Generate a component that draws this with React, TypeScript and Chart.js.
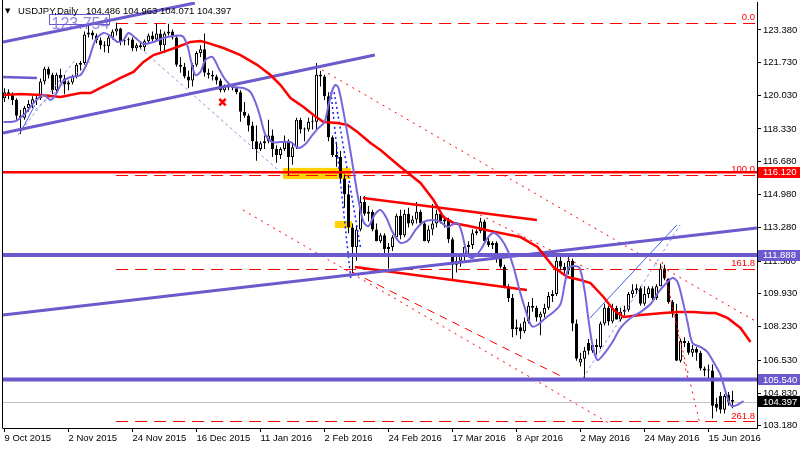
import React, { useEffect, useRef } from "react";
import { Chart, registerables } from "chart.js";

Chart.register(...registerables);

const FONT = "'Liberation Sans', Arial, sans-serif";

// ---------- data ----------
const symbolName = "USDJPY,Daily";
const dateTicks = ["9 Oct 2015", "2 Nov 2015", "24 Nov 2015", "16 Dec 2015", "11 Jan 2016", "2 Feb 2016", "24 Feb 2016", "17 Mar 2016", "8 Apr 2016", "2 May 2016", "24 May 2016", "15 Jun 2016"];
const dateTickBars = [0, 16, 32, 48, 64, 80, 96, 112, 128, 144, 160, 176];
const priceTicks = [123.38, 121.73, 120.03, 118.33, 116.68, 114.98, 113.28, 111.58, 109.93, 108.23, 106.53, 104.83, 103.18];

const opens = [
  119.9, 120.2, 120.05, 119.8, 119.0, 118.9, 119.4, 119.6, 119.85, 119.9,
  120.75, 121.4, 121.1, 120.3, 121.1, 120.9, 120.6, 120.7, 121.0, 121.6,
  121.7, 123.15, 123.25, 123.1, 122.85, 122.6, 122.55, 123.0, 123.3, 123.45,
  122.8, 122.85, 122.9, 122.45, 122.6, 122.5, 122.8, 123.1, 122.9, 123.2,
  122.6, 123.2, 123.3, 123.0, 121.6, 121.5, 121.0, 120.8, 121.6, 122.2,
  122.4, 121.2, 121.1, 121.0, 120.8, 120.3, 120.5, 120.45, 120.4, 120.2,
  119.2, 119.0, 118.5, 117.7, 117.3, 117.6, 117.7, 118.0, 117.3, 117.0,
  117.3, 117.7, 116.9, 117.4, 118.8, 118.3, 118.3, 118.7, 118.7, 121.1,
  121.0, 120.0, 117.9, 117.0, 116.9, 115.8, 115.0, 113.3, 112.3, 113.2,
  114.6, 114.0, 114.1, 113.2, 112.6, 112.9, 112.2, 112.3, 112.8, 113.9,
  112.9, 114.0, 113.5, 113.7, 114.1, 113.5, 112.6, 113.2, 113.5, 114.0,
  113.6, 113.7, 112.7, 111.4, 111.6, 111.9, 112.3, 112.4, 113.0, 113.1,
  113.6, 112.6, 112.4, 112.5, 111.7, 111.3, 110.3, 109.7, 108.1, 108.2,
  108.0, 108.5, 109.3, 109.2, 108.7, 108.9, 109.2, 109.8, 109.9, 111.6,
  111.3, 111.1, 111.6, 108.4, 106.4, 106.6, 107.4, 107.0, 107.3, 107.2,
  108.4, 109.2, 108.5, 109.2, 108.6, 109.0, 109.1, 109.9, 110.1, 110.2,
  109.4, 109.9, 110.2, 109.7, 110.3, 111.2, 110.7, 109.5, 108.9, 106.5,
  107.5, 107.4, 106.9, 107.1, 106.9, 106.1, 106.0, 106.0, 104.3, 104.7,
  104.0, 104.75, 104.486
];
const highs = [
  120.4, 120.35, 120.2, 119.9, 119.3, 119.5, 119.8, 120.0, 120.1, 120.9,
  121.5, 121.5, 121.2, 121.2, 121.4, 121.1, 120.8, 121.1, 121.7, 121.8,
  123.3, 123.6, 123.35, 123.2, 123.0, 122.8, 123.1, 123.4, 123.754, 123.5,
  123.0, 123.0, 123.0, 122.7, 122.8, 122.9, 123.2, 123.3, 123.7, 123.4,
  123.3, 123.7, 123.4, 123.1, 122.0, 121.7, 121.3, 121.7, 122.3, 122.6,
  123.2, 121.4, 121.3, 121.1, 120.9, 120.6, 120.6, 120.6, 120.5, 120.3,
  119.7, 119.1, 118.7, 118.5, 117.7, 118.0, 118.8, 118.3, 117.5, 117.4,
  118.0, 117.8, 117.6, 118.9, 118.9, 118.4, 118.9, 119.0, 121.69, 121.3,
  121.1, 120.2, 118.0, 117.6, 117.2, 116.0, 115.5, 113.5, 113.4, 114.9,
  114.9, 114.4, 114.2, 113.5, 113.0, 113.0, 112.5, 112.9, 114.0, 114.2,
  114.2, 114.3, 113.9, 114.6, 114.2, 113.6, 113.4, 114.5, 114.2, 114.1,
  113.9, 113.8, 112.8, 111.8, 112.0, 112.5, 112.6, 113.2, 113.2, 113.8,
  113.7, 112.8, 112.6, 112.6, 111.8, 111.4, 110.4, 109.9, 108.6, 108.4,
  108.7, 109.5, 109.7, 109.3, 109.0, 109.4, 110.0, 110.1, 111.8, 111.9,
  111.5, 111.9, 111.7, 108.6, 106.9, 107.2, 107.6, 107.4, 107.6, 108.5,
  109.4, 109.3, 109.4, 109.3, 109.2, 109.3, 110.0, 110.4, 110.4, 110.3,
  110.3, 110.3, 110.3, 110.4, 111.45, 111.4, 110.7, 109.6, 109.4, 107.6,
  107.7, 107.5, 107.3, 107.2, 107.0, 106.2, 106.3, 106.3, 104.6, 104.9,
  104.8, 104.9, 104.963
];
const lows = [
  119.7, 119.85, 119.55, 118.8, 118.07, 118.8, 119.2, 119.4, 119.55, 119.8,
  120.6, 120.9, 120.1, 120.1, 120.7, 120.1, 120.3, 120.6, 120.9, 121.3,
  121.6, 123.0, 122.9, 122.7, 122.4, 122.25, 122.2, 122.9, 123.1, 122.6,
  122.6, 122.6, 122.3, 122.3, 122.4, 122.3, 122.7, 122.8, 122.8, 122.3,
  122.2, 123.1, 122.9, 121.5, 121.2, 120.9, 120.4, 120.5, 121.5, 122.0,
  121.0, 120.9, 120.8, 120.6, 120.2, 120.2, 120.3, 120.3, 120.1, 118.7,
  118.9, 118.2, 117.3, 116.7, 117.2, 117.3, 117.6, 116.9, 116.6, 116.8,
  117.2, 115.98, 116.5, 117.3, 118.1, 117.7, 118.2, 118.3, 118.3, 120.5,
  119.8, 117.7, 116.9, 116.4, 115.6, 114.3, 113.0, 110.98, 111.6, 113.1,
  113.9, 113.6, 113.1, 112.6, 112.5, 111.9, 111.2, 112.1, 112.7, 112.7,
  112.8, 113.3, 113.4, 113.5, 113.4, 112.6, 112.5, 112.9, 113.3, 113.5,
  113.3, 112.5, 110.66, 111.0, 111.3, 111.6, 112.0, 112.2, 112.9, 113.0,
  112.5, 112.3, 112.2, 111.5, 111.2, 110.2, 109.5, 107.7, 107.8, 107.6,
  107.9, 108.4, 109.0, 108.5, 107.8, 108.7, 109.1, 109.5, 109.8, 111.1,
  110.9, 110.9, 108.0, 106.5, 106.2, 105.55, 106.8, 106.9, 106.8, 107.1,
  108.3, 108.3, 108.4, 108.6, 108.5, 108.8, 109.0, 109.7, 109.9, 109.3,
  109.3, 109.7, 109.6, 109.6, 110.3, 110.6, 109.4, 108.7, 106.5, 106.4,
  107.2, 106.8, 106.7, 106.5, 106.0, 105.7, 105.6, 103.55, 103.9, 103.8,
  103.8, 104.2, 104.071
];
const closes = [
  120.2, 120.05, 119.8, 119.0, 118.9, 119.4, 119.6, 119.85, 119.9, 120.75,
  121.4, 121.1, 120.3, 121.1, 120.9, 120.6, 120.7, 121.0, 121.6, 121.7,
  123.15, 123.25, 123.1, 122.85, 122.6, 122.55, 123.0, 123.3, 123.45, 122.8,
  122.85, 122.9, 122.45, 122.6, 122.5, 122.8, 123.1, 122.9, 123.2, 122.6,
  123.2, 123.3, 123.0, 121.6, 121.5, 121.0, 120.8, 121.6, 122.2, 122.4,
  121.2, 121.1, 121.0, 120.8, 120.3, 120.5, 120.45, 120.4, 120.2, 119.2,
  119.0, 118.5, 117.7, 117.3, 117.6, 117.7, 118.0, 117.3, 117.0, 117.3,
  117.7, 116.9, 117.4, 118.8, 118.3, 118.3, 118.7, 118.7, 121.1, 121.0,
  120.0, 117.9, 117.0, 116.9, 115.8, 115.0, 113.3, 112.3, 113.2, 114.6,
  114.0, 114.1, 113.2, 112.6, 112.9, 112.2, 112.3, 112.8, 113.9, 112.9,
  114.0, 113.5, 113.7, 114.1, 113.5, 112.6, 113.2, 113.5, 114.0, 113.6,
  113.7, 112.7, 111.4, 111.6, 111.9, 112.3, 112.4, 113.0, 113.1, 113.6,
  112.6, 112.4, 112.5, 111.7, 111.3, 110.3, 109.7, 108.1, 108.2, 108.0,
  108.5, 109.3, 109.2, 108.7, 108.9, 109.2, 109.8, 109.9, 111.6, 111.3,
  111.1, 111.6, 108.4, 106.6, 106.6, 107.0, 107.0, 107.3, 107.2, 108.4,
  109.2, 108.5, 109.2, 108.6, 109.0, 109.1, 109.9, 110.1, 110.2, 109.4,
  109.9, 110.2, 109.7, 110.3, 111.2, 110.7, 109.5, 108.9, 106.5, 107.5,
  107.4, 106.9, 107.1, 106.9, 106.1, 106.0, 106.0, 104.2, 104.1, 104.0,
  104.7, 104.4, 104.397
];

// indicator curves: [bar index, price]
const fastMA: [number, number][] = [
  [-0.25, 118.68], [2.75, 118.73], [5.25, 119.14], [7.25, 119.65], [9.75, 120.06], [11.5, 119.81], [12.75, 120.06], [14.5, 120.73], [16.5, 120.98], [19, 121.08],
  [21, 121.85], [22.75, 122.87], [24.75, 123.23], [26.5, 123.07], [28.25, 122.77], [29.75, 122.87], [31, 123.23], [32.75, 122.97], [34.75, 122.67], [37.25, 122.77],
  [39.75, 122.97], [42.25, 123.07], [44.5, 123.07], [45.75, 122.56], [46.75, 121.7], [47.75, 121.08], [49, 121.24], [50.25, 121.85], [52, 122.0], [53.5, 121.44],
  [55.25, 120.83], [57.25, 120.47], [59.75, 120.42], [61.5, 120.21], [63, 119.55], [64, 118.89], [65.25, 118.02], [67, 117.66], [69, 117.66], [71.5, 117.66],
  [73.5, 117.36], [75.25, 117.56], [77, 118.02], [78.5, 118.38], [80, 118.68], [81, 119.55], [82, 120.32], [82.75, 120.57], [83.5, 120.42], [84.75, 119.19],
  [86, 117.77], [87.25, 116.23], [88.5, 114.7], [89.75, 113.58], [91, 113.37], [92.5, 113.94], [94, 114.19], [95.5, 113.78], [97, 113.07], [99, 112.51],
  [101, 112.66], [102.75, 113.17], [104.75, 113.58], [107, 113.68], [109, 113.58], [110.75, 113.32], [112.25, 113.48], [113.5, 113.48], [114.5, 112.91], [115.75, 111.89],
  [117, 111.74], [119, 112.15], [120.75, 112.76], [122.25, 113.02], [124, 112.76], [125.75, 112.15], [127.25, 111.28], [128.75, 110.11], [130.25, 109.09], [131.75, 108.27],
  [133.25, 108.32], [135.25, 108.68], [137.25, 108.98], [139, 109.39], [140, 110.36], [141, 111.23], [142.25, 111.33], [143.75, 111.23], [145, 110.11], [146, 108.58],
  [147, 107.3], [148.25, 106.53], [150.25, 106.94], [152, 107.45], [154, 108.17], [156.5, 108.68], [159, 108.98], [161.5, 109.39], [163.5, 110.0], [165.25, 110.41],
  [167, 110.72], [168.25, 110.52], [169.5, 109.6], [170.75, 108.47], [172, 107.4], [174, 107.2], [175.75, 106.94], [177.25, 106.43], [179, 105.77], [180.5, 104.75],
  [181.75, 104.19], [183.25, 104.24], [184.75, 104.44]
];
const slowMA: [number, number][] = [
  [-0.25, 120.06], [4, 120.11], [9, 120.06], [14, 119.96], [19, 120.16], [21.5, 120.16], [24, 120.42], [26.5, 120.67], [29, 120.93], [32.25, 121.24],
  [34.75, 121.75], [37.25, 122.1], [39.75, 122.26], [43.25, 122.51], [46.5, 122.77], [49, 122.82], [50.75, 122.72], [54.75, 122.46], [59, 122.1], [63.25, 121.59],
  [66.5, 121.08], [69, 120.57], [71.5, 119.91], [74.75, 119.45], [77.25, 119.04], [79.75, 118.68], [83.25, 118.63], [85.75, 118.53], [88.25, 118.17], [91.5, 117.61],
  [94, 117.25], [99, 116.39], [104, 115.57], [107.25, 114.7], [109.75, 113.83], [112.25, 113.53], [117.25, 113.32], [121.5, 113.12], [124, 113.02], [129, 112.81],
  [133.25, 112.3], [137.25, 111.28], [140.75, 110.77], [144, 110.62], [146.5, 110.46], [149.75, 109.75], [152.25, 109.09], [154.75, 108.73], [159, 108.83], [164.75, 108.93],
  [168.25, 108.98], [172.25, 108.98], [175.75, 108.93], [177.75, 108.93], [180.75, 108.68], [184, 108.17], [186.5, 107.45]
];

// drawn objects: [bar1, price1, bar2, price2]
const purpleChannel = [
  [-0.375, 122.77, 47.6, 124.76],
  [-0.375, 118.12, 92.6, 122.1],
  [-0.375, 108.83, 188.1, 113.27],
];
const purpleStub = [[-0.375, 120.98, 8.1, 120.93]];
const lavenderLines = [
  [33.9, 122.46, 70.1, 115.93],
  [3.4, 118.02, 17.6, 121.85],
  [7.6, 119.3, 21.4, 121.75],
  [144.6, 105.61, 168.9, 113.43],
];
const blueThin = [[3.9, 118.12, 7.6, 119.55], [146.4, 108.68, 168.1, 113.43]];
const blueDotted = [[81.6, 120.21, 86.6, 110.62], [82.4, 120.21, 89.1, 112.15]];
const redDotted = [
  [79.4, 121.34, 188.1, 108.47],
  [59.6, 114.19, 151.9, 103.22],
  [118.9, 113.94, 146.4, 111.13],
  [164.4, 111.54, 173.9, 103.22],
  [165.1, 110.98, 170.9, 105.51],
];
const redDashed = [[86.9, 111.03, 140.1, 105.61]];
const redTriangle = [[89.6, 114.8, 133.1, 113.68], [87.6, 111.28, 130.6, 110.11]];
const yellowZones = [[69.6, 86.6, 115.77, 116.34], [82.6, 86.9, 113.27, 113.63]];
const crossMark = [[54.5, 119.7]];

const redLevel = 116.12;
const purpleLevels = [111.888, 105.54];
const fibLevels = [123.754, 115.98, 111.17, 103.4];
const fibLabels = ["0.0", "100.0", "161.8", "261.8"];
const fibStartBar = 27.9;
const highLabelAnchor = [11.1, 124.2];

const X_MIN = -0.375;
const X_MAX = 188.125;
const Y_MIN = 103.062;
const Y_MAX = 124.809;

const PURPLE = "#6a5acd";
const MA_PURPLE = "#7766dd";
const RED = "#ff0000";

function segDataset(pts: number[][], color: string, width: number, dash: number[], order: number) {
  return pts.map((s) => ({
    type: "line" as const,
    data: [{ x: s[0], y: s[1] }, { x: s[2], y: s[3] }],
    borderColor: color,
    borderWidth: width,
    borderDash: dash,
    pointRadius: 0,
    pointHoverRadius: 0,
    fill: false,
    tension: 0,
    order,
  }));
}

const mt4Plugin = {
  id: "mt4",
  beforeDatasetsDraw(chart: any) {
    const { ctx, chartArea: a, scales } = chart;
    const x = scales.x, y = scales.y;
    ctx.save();
    ctx.beginPath();
    ctx.rect(a.left, a.top, a.right - a.left, a.bottom - a.top);
    ctx.clip();
    ctx.fillStyle = "#ffd200";
    for (const [x0, x1, y0, y1] of yellowZones) {
      const px0 = x.getPixelForValue(x0), px1 = x.getPixelForValue(x1);
      const py0 = y.getPixelForValue(y1), py1 = y.getPixelForValue(y0);
      ctx.fillRect(px0, py0, px1 - px0, py1 - py0);
    }
    // bid line (grey, solid)
    const last = closes[closes.length - 1];
    const by = Math.round(y.getPixelForValue(last)) + 0.5;
    ctx.strokeStyle = "#c0c0c0";
    ctx.lineWidth = 1;
    ctx.beginPath();
    ctx.moveTo(a.left, by);
    ctx.lineTo(a.right, by);
    ctx.stroke();
    // Fibonacci levels (red dashed)
    ctx.strokeStyle = RED;
    ctx.setLineDash([12, 7]);
    const fx = x.getPixelForValue(fibStartBar);
    for (const lv of fibLevels) {
      const py = Math.round(y.getPixelForValue(lv)) + 0.5;
      ctx.beginPath();
      ctx.moveTo(fx, py);
      ctx.lineTo(a.right, py);
      ctx.stroke();
    }
    ctx.restore();
  },
  afterDatasetsDraw(chart: any) {
    const { ctx, chartArea: a, scales } = chart;
    const x = scales.x, y = scales.y;
    ctx.save();
    ctx.font = `9.5px ${FONT}`;
    ctx.fillStyle = RED;
    ctx.textAlign = "right";
    ctx.textBaseline = "middle";
    fibLevels.forEach((lv, k) => {
      ctx.fillText(fibLabels[k], a.right - 2, y.getPixelForValue(lv) - 5.5);
    });
    // high label
    const hx = Math.round(x.getPixelForValue(highLabelAnchor[0])) + 0.5;
    const hy = Math.round(y.getPixelForValue(highLabelAnchor[1])) + 0.5;
    ctx.strokeStyle = PURPLE;
    ctx.lineWidth = 1;
    ctx.strokeRect(hx, hy, 60, 10);
    ctx.font = `16px ${FONT}`;
    ctx.fillStyle = "rgba(120,105,215,0.8)";
    ctx.textAlign = "left";
    ctx.textBaseline = "alphabetic";
    ctx.fillText(Math.max(...highs).toFixed(3), hx + 2, hy + 14);
    ctx.restore();
  },
  afterDraw(chart: any) {
    const { ctx, chartArea: a, scales } = chart;
    const y = scales.y;
    ctx.save();
    // left frame
    ctx.strokeStyle = "#000";
    ctx.lineWidth = 1;
    ctx.beginPath();
    ctx.moveTo(2.5, 0);
    ctx.lineTo(2.5, a.bottom + 0.5);
    ctx.stroke();
    // right-axis price boxes
    const boxes = [
      { v: redLevel, bg: RED },
      { v: purpleLevels[0], bg: PURPLE },
      { v: purpleLevels[1], bg: PURPLE },
      { v: closes[closes.length - 1], bg: "#000" },
    ];
    ctx.font = `9.5px ${FONT}`;
    ctx.textAlign = "left";
    ctx.textBaseline = "middle";
    for (const b of boxes) {
      const py = y.getPixelForValue(b.v);
      ctx.fillStyle = b.bg;
      ctx.fillRect(a.right + 1, Math.round(py - 5.5), 800 - a.right - 1, 11);
      ctx.fillStyle = "#fff";
      ctx.fillText(b.v.toFixed(3), a.right + 6, py + 0.5);
    }
    // title
    const n = closes.length - 1;
    ctx.fillStyle = "#000";
    ctx.font = `7px 'DejaVu Sans', sans-serif`;
    ctx.fillText("▼", 5, 11);
    ctx.font = `9.5px ${FONT}`;
    ctx.fillText(symbolName, 18, 11);
    ctx.fillText(
      [opens[n], highs[n], lows[n], closes[n]].map((v) => v.toFixed(3)).join(" "),
      86,
      11
    );
    ctx.restore();
  },
};

export default function App() {
  const ref = useRef<HTMLCanvasElement | null>(null);
  useEffect(() => {
    if (!ref.current) return;
    const wickData = highs.map((h, i) => ({ x: i, y: [lows[i], h] }));
    const bodyData = opens.map((o, i) => ({ x: i, y: [Math.min(o, closes[i]), Math.max(o, closes[i])] }));
    const bodyColors = opens.map((o, i) => (closes[i] >= o ? "#ffffff" : "#000000"));

    const datasets: any[] = [
      {
        type: "bar", data: wickData, backgroundColor: "#000", borderWidth: 0,
        barThickness: 1, grouped: false, inflateAmount: 0, order: 100,
      },
      {
        type: "bar", data: bodyData, backgroundColor: bodyColors, borderColor: "#000",
        borderWidth: 1, borderSkipped: false, barThickness: 3, grouped: false,
        inflateAmount: 0, minBarLength: 1, order: 99,
      },
      ...segDataset(lavenderLines, "#9a8ce6", 1, [3, 3], 50),
      ...segDataset(blueThin, "#4060f0", 1, [], 49),
      ...segDataset(blueDotted, "#1020ff", 1.5, [2, 3], 48),
      ...segDataset(redDotted, RED, 1, [2, 5], 47),
      ...segDataset(redDashed, RED, 1, [8, 6], 46),
      ...segDataset(redTriangle, RED, 2.5, [], 40),
      ...segDataset([[X_MIN, redLevel, X_MAX, redLevel]], RED, 2.5, [], 35),
      ...segDataset(purpleLevels.map((lv) => [X_MIN, lv, X_MAX, lv]), PURPLE, 4, [], 30),
      ...segDataset(purpleChannel, PURPLE, 3, [], 29),
      ...segDataset(purpleStub, PURPLE, 2.5, [], 28),
      {
        type: "line", data: slowMA.map(([x, y]) => ({ x, y })), borderColor: RED, borderWidth: 2.5,
        pointRadius: 0, fill: false, tension: 0, order: 20,
      },
      {
        type: "line", data: fastMA.map(([x, y]) => ({ x, y })), borderColor: MA_PURPLE, borderWidth: 2,
        pointRadius: 0, fill: false, tension: 0.3, order: 10,
      },
      {
        type: "line", data: crossMark.map(([x, y]) => ({ x, y })), showLine: false,
        pointStyle: "crossRot", pointRadius: 4.5, pointBorderWidth: 2.5,
        pointBorderColor: RED, borderColor: RED, order: 5,
      },
    ];

    const chart = new Chart(ref.current, {
      type: "bar",
      data: { datasets },
      options: {
        animation: false,
        responsive: false,
        maintainAspectRatio: false,
        devicePixelRatio: 1,
        events: [],
        layout: { autoPadding: false, padding: { left: 3, top: 2, right: 0, bottom: 0 } },
        plugins: { legend: { display: false }, tooltip: { enabled: false }, title: { display: false } },
        scales: {
          x: {
            type: "linear",
            min: X_MIN,
            max: X_MAX,
            offset: false,
            grid: { display: true, drawOnChartArea: false, drawTicks: true, tickLength: 4, color: "#000", offset: false },
            border: { display: true, color: "#000", width: 1 },
            afterBuildTicks: (s: any) => {
              s.ticks = dateTickBars.map((b) => ({ value: b }));
            },
            ticks: {
              autoSkip: false,
              maxRotation: 0,
              minRotation: 0,
              align: "start",
              padding: 1,
              color: "#000",
              font: { family: FONT, size: 9.5 },
              callback: (_v: any, i: number) => dateTicks[i] ?? "",
            },
            afterFit: (s: any) => {
              s.height = 22;
              s.paddingLeft = 0;
              s.paddingRight = 0;
            },
          },
          y: {
            type: "linear",
            position: "right",
            min: Y_MIN,
            max: Y_MAX,
            grid: { display: true, drawOnChartArea: false, drawTicks: true, tickLength: 4, color: "#000" },
            border: { display: true, color: "#000", width: 1 },
            afterBuildTicks: (s: any) => {
              s.ticks = priceTicks.map((v) => ({ value: v }));
            },
            ticks: {
              padding: 2,
              color: "#000",
              font: { family: FONT, size: 9.5 },
              callback: (v: any) => Number(v).toFixed(3),
            },
            afterFit: (s: any) => {
              s.width = 43;
              s.paddingTop = 0;
              s.paddingBottom = 0;
            },
          },
        },
      } as any,
      plugins: [mt4Plugin],
    });
    return () => chart.destroy();
  }, []);

  return (
    <div style={{ position: "fixed", left: 0, top: 0, width: 800, height: 450, background: "#fff" }}>
      <canvas ref={ref} width={800} height={450} style={{ width: 800, height: 450, display: "block" }} />
    </div>
  );
}
